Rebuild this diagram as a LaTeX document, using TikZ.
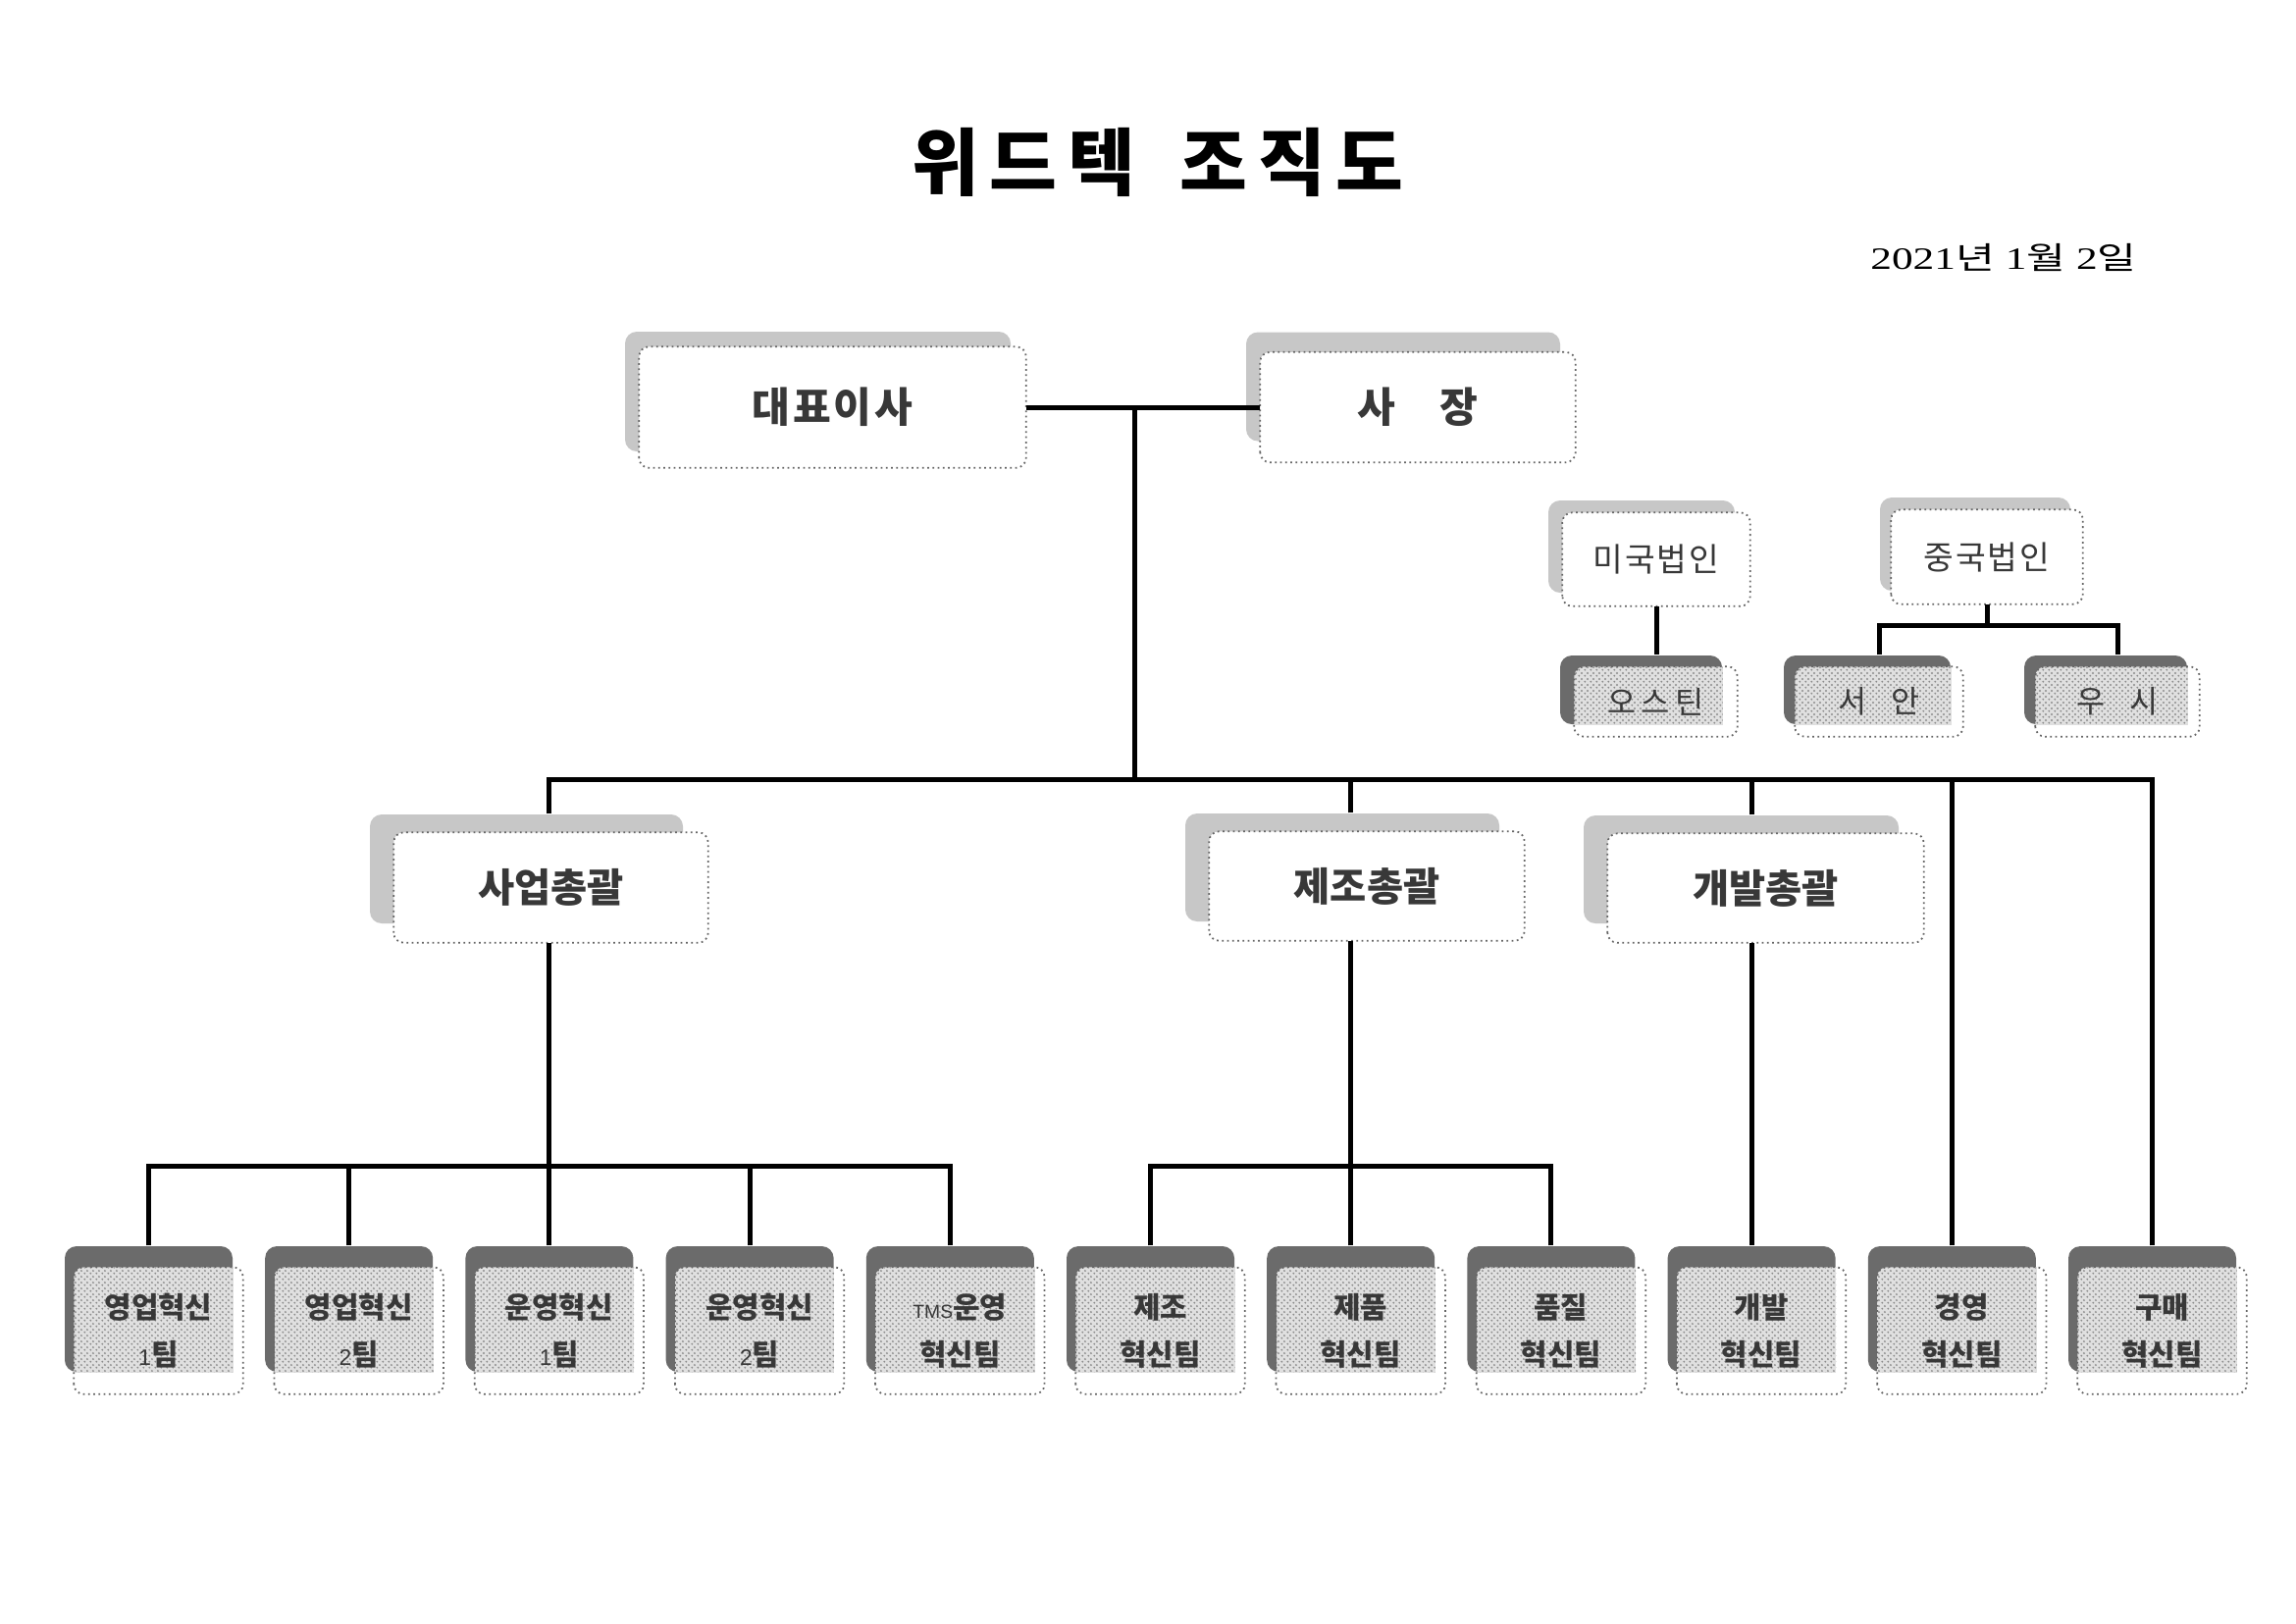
\documentclass[tikz,border=0pt]{standalone}
\usepackage{fontspec}
\usepackage{graphicx}
\setmainfont{Liberation Serif}
\newfontfamily\kr{Noto Sans CJK KR}
\newfontfamily\las{Liberation Sans}
\newfontfamily\lser{Liberation Serif}
\usetikzlibrary{patterns.meta}
\tikzdeclarepattern{
  name=finedots,
  type=uncolored,
  bounding box={(0pt,0pt) and (1.6pt,1.6pt)},
  tile size={(1.6pt,1.6pt)},
  code={\fill (0.4pt,0.4pt) circle[radius=0.32pt]; \fill (1.2pt,1.2pt) circle[radius=0.32pt];}
}
\newcommand{\dg}[1]{{\las\mdseries\fontsize{6.5}{6.5}\selectfont #1}}
\tikzset{
  conn/.style={line width=0.5mm, black},
  lightsh/.style={fill=black!22, rounded corners=1.2mm, inner sep=0pt},
  darksh/.style={fill=black!58, rounded corners=1.2mm, inner sep=0pt},
  shA/.style={lightsh}, shB/.style={lightsh}, shC/.style={lightsh},
  shD/.style={darksh}, shE/.style={darksh},
  bgA/.style={fill=white}, bgB/.style={fill=white}, bgC/.style={fill=white},
  bgD/.style={fill=black!12}, bgE/.style={fill=black!12},
  ptA/.style={fill=none}, ptB/.style={fill=none}, ptC/.style={fill=none},
  ptD/.style={pattern=finedots, pattern color=black!45},
  ptE/.style={pattern=finedots, pattern color=black!45},
  boxbase/.style={fill=white, inner sep=0pt, rounded corners=1mm},
  border/.style={draw=black!60, line width=0.5pt, densely dotted, rounded corners=1mm},
  lbl/.style={text=black!78, align=center, inner sep=0pt},
  lbA/.style={lbl, font=\fontsize{12}{14}\selectfont\kr\bfseries},
  lbB/.style={lbl, font=\fontsize{11.5}{14}\selectfont\kr\bfseries},
  lbC/.style={lbl, font=\fontsize{9.5}{12}\selectfont\kr},
  lbD/.style={lbl, font=\fontsize{9}{12}\selectfont\kr},
  lbE/.style={lbl, font=\fontsize{8.5}{13.7}\selectfont\kr\bfseries},
}
% name, cx, cy, w, h, dx, dy, kind, text
\newcommand{\orgbox}[9]{%
  \node[sh#8, minimum width=#4*0.1mm, minimum height=#5*0.1mm] (#1s) at ({#2+#6},{#3+#7}) {};
  \node[boxbase, minimum width=#4*0.1mm, minimum height=#5*0.1mm] (#1) at (#2,#3) {};
  \begin{scope}
    \clip[rounded corners=1mm] (#1.south west) rectangle (#1.north east);
    \fill[bg#8] (#1.north west) rectangle (#1s.south east);
    \fill[pt#8] (#1.north west) rectangle (#1s.south east);
  \end{scope}
  \draw[border] (#1.south west) rectangle (#1.north east);
  \node[lb#8] (#1t) at (#1) {#9};
}
\begin{document}
\begin{tikzpicture}[x=0.1mm, y=-0.1mm]
\useasboundingbox[fill=white] (0,0) rectangle (2340,1654);

% title and date
\node (title) at (1180,165) {\fontsize{21.3}{24}\selectfont\kr\bfseries 위\hspace{3pt}드\hspace{3pt}텍\hspace{13pt}조\hspace{3pt}직\hspace{3pt}도};
\node (date) at (2042,262) {\scalebox{1.37}[1]{\fontsize{9}{10}\selectfont\lser 2021{\kr 년} 1{\kr 월} 2{\kr 일}}};

% top level
\orgbox{ceo}{848.5}{415}{393}{122}{-15}{-16}{A}{대\hspace{0.8pt}표\hspace{0.8pt}이\hspace{0.8pt}사}
\orgbox{pres}{1445}{415}{320}{111}{-15}{-21}{A}{사\hspace{13pt}장}

% overseas
\orgbox{us}{1688}{570}{190}{94}{-15}{-13}{C}{미\hspace{0.5pt}국\hspace{0.5pt}법\hspace{0.5pt}인}
\orgbox{cn}{2025}{567.5}{194}{95}{-12}{-13}{C}{중\hspace{0.5pt}국\hspace{0.5pt}법\hspace{0.5pt}인}
\orgbox{aus}{1687.5}{715}{165}{70}{-15}{-12}{D}{오\hspace{1.5pt}스\hspace{1.5pt}틴}
\orgbox{xian}{1915}{715}{170}{70}{-12}{-12}{D}{서\hspace{7pt}안}
\orgbox{wuxi}{2158}{715}{166}{70}{-12}{-12}{D}{우\hspace{7pt}시}

% level 2
\orgbox{g1}{561.5}{904.5}{319}{111}{-25}{-19}{B}{사업총괄}
\orgbox{g2}{1393}{903}{320}{110}{-25}{-19}{B}{제조총괄}
\orgbox{g3}{1799.5}{905}{321}{110}{-25}{-19}{B}{개발총괄}

% level 3
\orgbox{b0}{161.5}{1356}{171}{128}{-10}{-22}{E}{영업혁신\\\dg{1}팀}
\orgbox{b1}{365.7}{1356}{171}{128}{-10}{-22}{E}{영업혁신\\\dg{2}팀}
\orgbox{b2}{569.9}{1356}{171}{128}{-10}{-22}{E}{운영혁신\\\dg{1}팀}
\orgbox{b3}{774.1}{1356}{171}{128}{-10}{-22}{E}{운영혁신\\\dg{2}팀}
\orgbox{b4}{978.3}{1356}{171}{128}{-10}{-22}{E}{{\las\mdseries\fontsize{5.5}{6}\selectfont TMS}운영\\혁신팀}
\orgbox{b5}{1182.5}{1356}{171}{128}{-10}{-22}{E}{제조\\혁신팀}
\orgbox{b6}{1386.7}{1356}{171}{128}{-10}{-22}{E}{제품\\혁신팀}
\orgbox{b7}{1590.9}{1356}{171}{128}{-10}{-22}{E}{품질\\혁신팀}
\orgbox{b8}{1795.1}{1356}{171}{128}{-10}{-22}{E}{개발\\혁신팀}
\orgbox{b9}{1999.3}{1356}{171}{128}{-10}{-22}{E}{경영\\혁신팀}
\orgbox{b10}{2203.5}{1356}{171}{128}{-10}{-22}{E}{구매\\혁신팀}

% junctions
\coordinate (hub) at (1156,415);
\coordinate (busc) at (1156,794);
\coordinate (j1) at (559,1188);
\coordinate (j2) at (1376,1188);
\coordinate (cnj) at (2025,637);

% connectors
\draw[conn] (ceo.east) -- (pres.west);
\draw[conn] (hub) -- (busc);
\draw[conn] (g1s.north -| j1) |- (busc);
\draw[conn] (g2s.north -| j2) |- (busc);
\draw[conn] (b8s.north |- g3s.north) |- (busc);
\draw[conn] (b9s.north) |- (busc);
\draw[conn] (b10s.north) |- (busc);

\draw[conn] (g1.south -| j1) -- (j1);
\draw[conn] (b0s.north) |- (j1);
\draw[conn] (b1s.north) |- (j1);
\draw[conn] (b2s.north) -- (b2s.north |- j1);
\draw[conn] (b3s.north) |- (j1);
\draw[conn] (b4s.north) |- (j1);

\draw[conn] (g2.south -| j2) -- (j2);
\draw[conn] (b5s.north) |- (j2);
\draw[conn] (b6s.north) -- (b6s.north |- j2);
\draw[conn] (b7s.north) |- (j2);

\draw[conn] (g3.south -| b8s.north) -- (b8s.north);

\draw[conn] (us.south) -- (us.south |- auss.north);
\draw[conn] (cn.south) -- (cnj);
\draw[conn] (xian.north |- xians.north) |- (cnj);
\draw[conn] (wuxi.north |- wuxis.north) |- (cnj);
\end{tikzpicture}
\end{document}
